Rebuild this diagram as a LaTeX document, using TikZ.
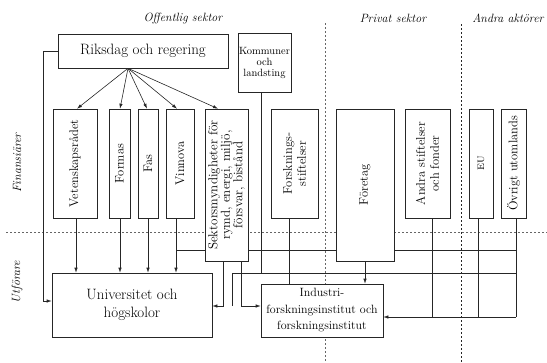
\documentclass[tikz,border=0pt]{standalone}
\usetikzlibrary{positioning,
	arrows.meta,
	backgrounds,
	calc}
\tikzstyle{box}=[draw=black!85, fill=white, line width=0.6pt, inner sep=1pt, align=center]
\tikzstyle{vbox}=[box, rotate=90, minimum width=109pt, font=\fontsize{12.5}{14}\selectfont]
\tikzstyle{conn}=[draw=black!85, line width=0.6pt]
\tikzstyle{arr}=[conn, -{Latex[length=5pt,width=3.4pt]}]
\tikzstyle{divider}=[black!60, line width=0.8pt, dash pattern=on 2pt off 2pt]
\tikzstyle{sector}=[font=\fontsize{12}{14}\selectfont\itshape, inner sep=1pt]

\begin{document}
\begin{tikzpicture}[x=1pt,y=-1pt]
    \useasboundingbox (0,0) rectangle (547,362);
    % sector labels
    \node[sector] (off) at (183,18) {Offentlig sektor};
    \node[sector] (priv) at (393,18) {Privat sektor};
    \node[sector] (andr) at (508,18) {Andra aktörer};
    \node[sector, rotate=90] (fin) at (17,163) {Finansiärer};
    \node[sector, rotate=90] (utf) at (17,282) {Utförare};
    % financiers
    \node[box, minimum width=170pt, minimum height=34pt, font=\fontsize{15}{17}\selectfont] (riks) at (143,51) {Riksdag och regering};
    \node[box, minimum width=53pt, minimum height=59pt, font=\fontsize{10.5}{11}\selectfont] (komm) at (264.5,62.5) {Kommuner\\och\\landsting};
    \node[vbox, minimum height=44pt] (vr) at (75,163.5) {Vetenskapsrådet};
    \node[vbox, minimum height=21pt] (formas) at (119.5,163.5) {Formas};
    \node[vbox, minimum height=20pt] (fas) at (148,163.5) {Fas};
    \node[vbox, minimum height=28pt] (vinn) at (180,163.5) {Vinnova};
    \node[vbox, minimum width=152pt, minimum height=43pt, font=\fontsize{13}{12.5}\selectfont] (sekt) at (226.5,185) {Sektorsmyndigheter för\\rymd, energi, miljö,\\försvar, bistånd};
    \node[vbox, minimum height=47pt] (fstift) at (294.5,163.5) {Forsknings-\\stiftelser};
    \node[vbox, minimum width=152pt, minimum height=58pt] (fore) at (365,185) {Företag};
    \node[vbox, minimum height=45pt] (andra) at (427.5,163.5) {Andra stiftelser\\och fonder};
    \node[vbox, minimum height=24pt] (eu) at (481,163.5) {\textsc{eu}};
    \node[vbox, minimum height=25pt] (ovr) at (513.5,163.5) {Övrigt utomlands};
    % performers
    \node[box, minimum width=160pt, minimum height=64pt, font=\fontsize{15}{18}\selectfont] (univ) at (132,305) {Universitet och\\högskolor};
    \node[box, minimum width=122pt, minimum height=53pt, font=\fontsize{12}{16.5}\selectfont] (indu) at (322,310.5) {Industri-\\forskningsinstitut och\\forskningsinstitut};

    % line ends
    \coordinate (rb) at ([xshift=-15pt]riks.south);
    \coordinate (vr-b) at ([xshift=1pt]vr.west);
    \coordinate (formas-b) at ([xshift=0.5pt]formas.west);
    \coordinate (fas-b) at (fas.west);
    \coordinate (vinn-b) at ([xshift=-4pt]vinn.west);
    \coordinate (s1) at ([xshift=-3.5pt]sekt.west);
    \coordinate (s2) at ([xshift=14.5pt]sekt.west);
    \coordinate (fs-b) at ([xshift=-5.5pt]fstift.west);
    \coordinate (an-b) at ([xshift=4.5pt]andra.west);
    \coordinate (eu-b) at ([xshift=-2.5pt]eu.west);
    \coordinate (ovr-b) at ([xshift=2.5pt]ovr.west);
    \coordinate (b2l) at (232,273);
    \coordinate (b3) at ([yshift=-6.5pt]indu.east);

    \begin{scope}[on background layer]
        \draw[divider] (6,232) -- (547,232);
        \draw[divider] (325,23) -- (325,362);
        \draw[divider, black!85] (461,24) -- (461,362);
        \draw[conn] (vinn-b |- 0,250) -- (ovr-b |- 0,250);
    \end{scope}

    % from Riksdag och regering
    \foreach \n/\s in {vr/2, formas/0.5, fas/-1, vinn/-3, sekt/-8.5}
        \draw[arr] (rb) -- ([xshift=\s pt]\n.east);
    \draw[arr] (riks.west) -- ++(-14,0) |- ([yshift=4pt]univ.west);
    % down to Universitet och högskolor
    \foreach \c in {vr-b, formas-b, fas-b, vinn-b}
        \draw[arr] (\c) -- (\c |- univ.north);
    \draw[arr] (s1) |- ([yshift=-1pt]univ.east);
    \draw[conn] (b2l) -- ++(0,33);
    \draw[conn] (b2l) -- (b2l -| ovr-b);
    \draw[conn] ([xshift=-3.5pt]komm.south) coordinate (k) -- (k |- b2l);
    % down to Industriforskningsinstitut
    \draw[arr] (s2) |- ([yshift=4.5pt]indu.west);
    \draw[conn] (fs-b) -- (fs-b |- indu.north);
    \draw[arr] (fore.west) -- (fore.west |- indu.north);
    \foreach \c in {an-b, eu-b, ovr-b}
        \draw[conn] (\c) -- (\c |- b3);
    \draw[arr] (ovr-b |- b3) -- (b3);
\end{tikzpicture}
\end{document}
